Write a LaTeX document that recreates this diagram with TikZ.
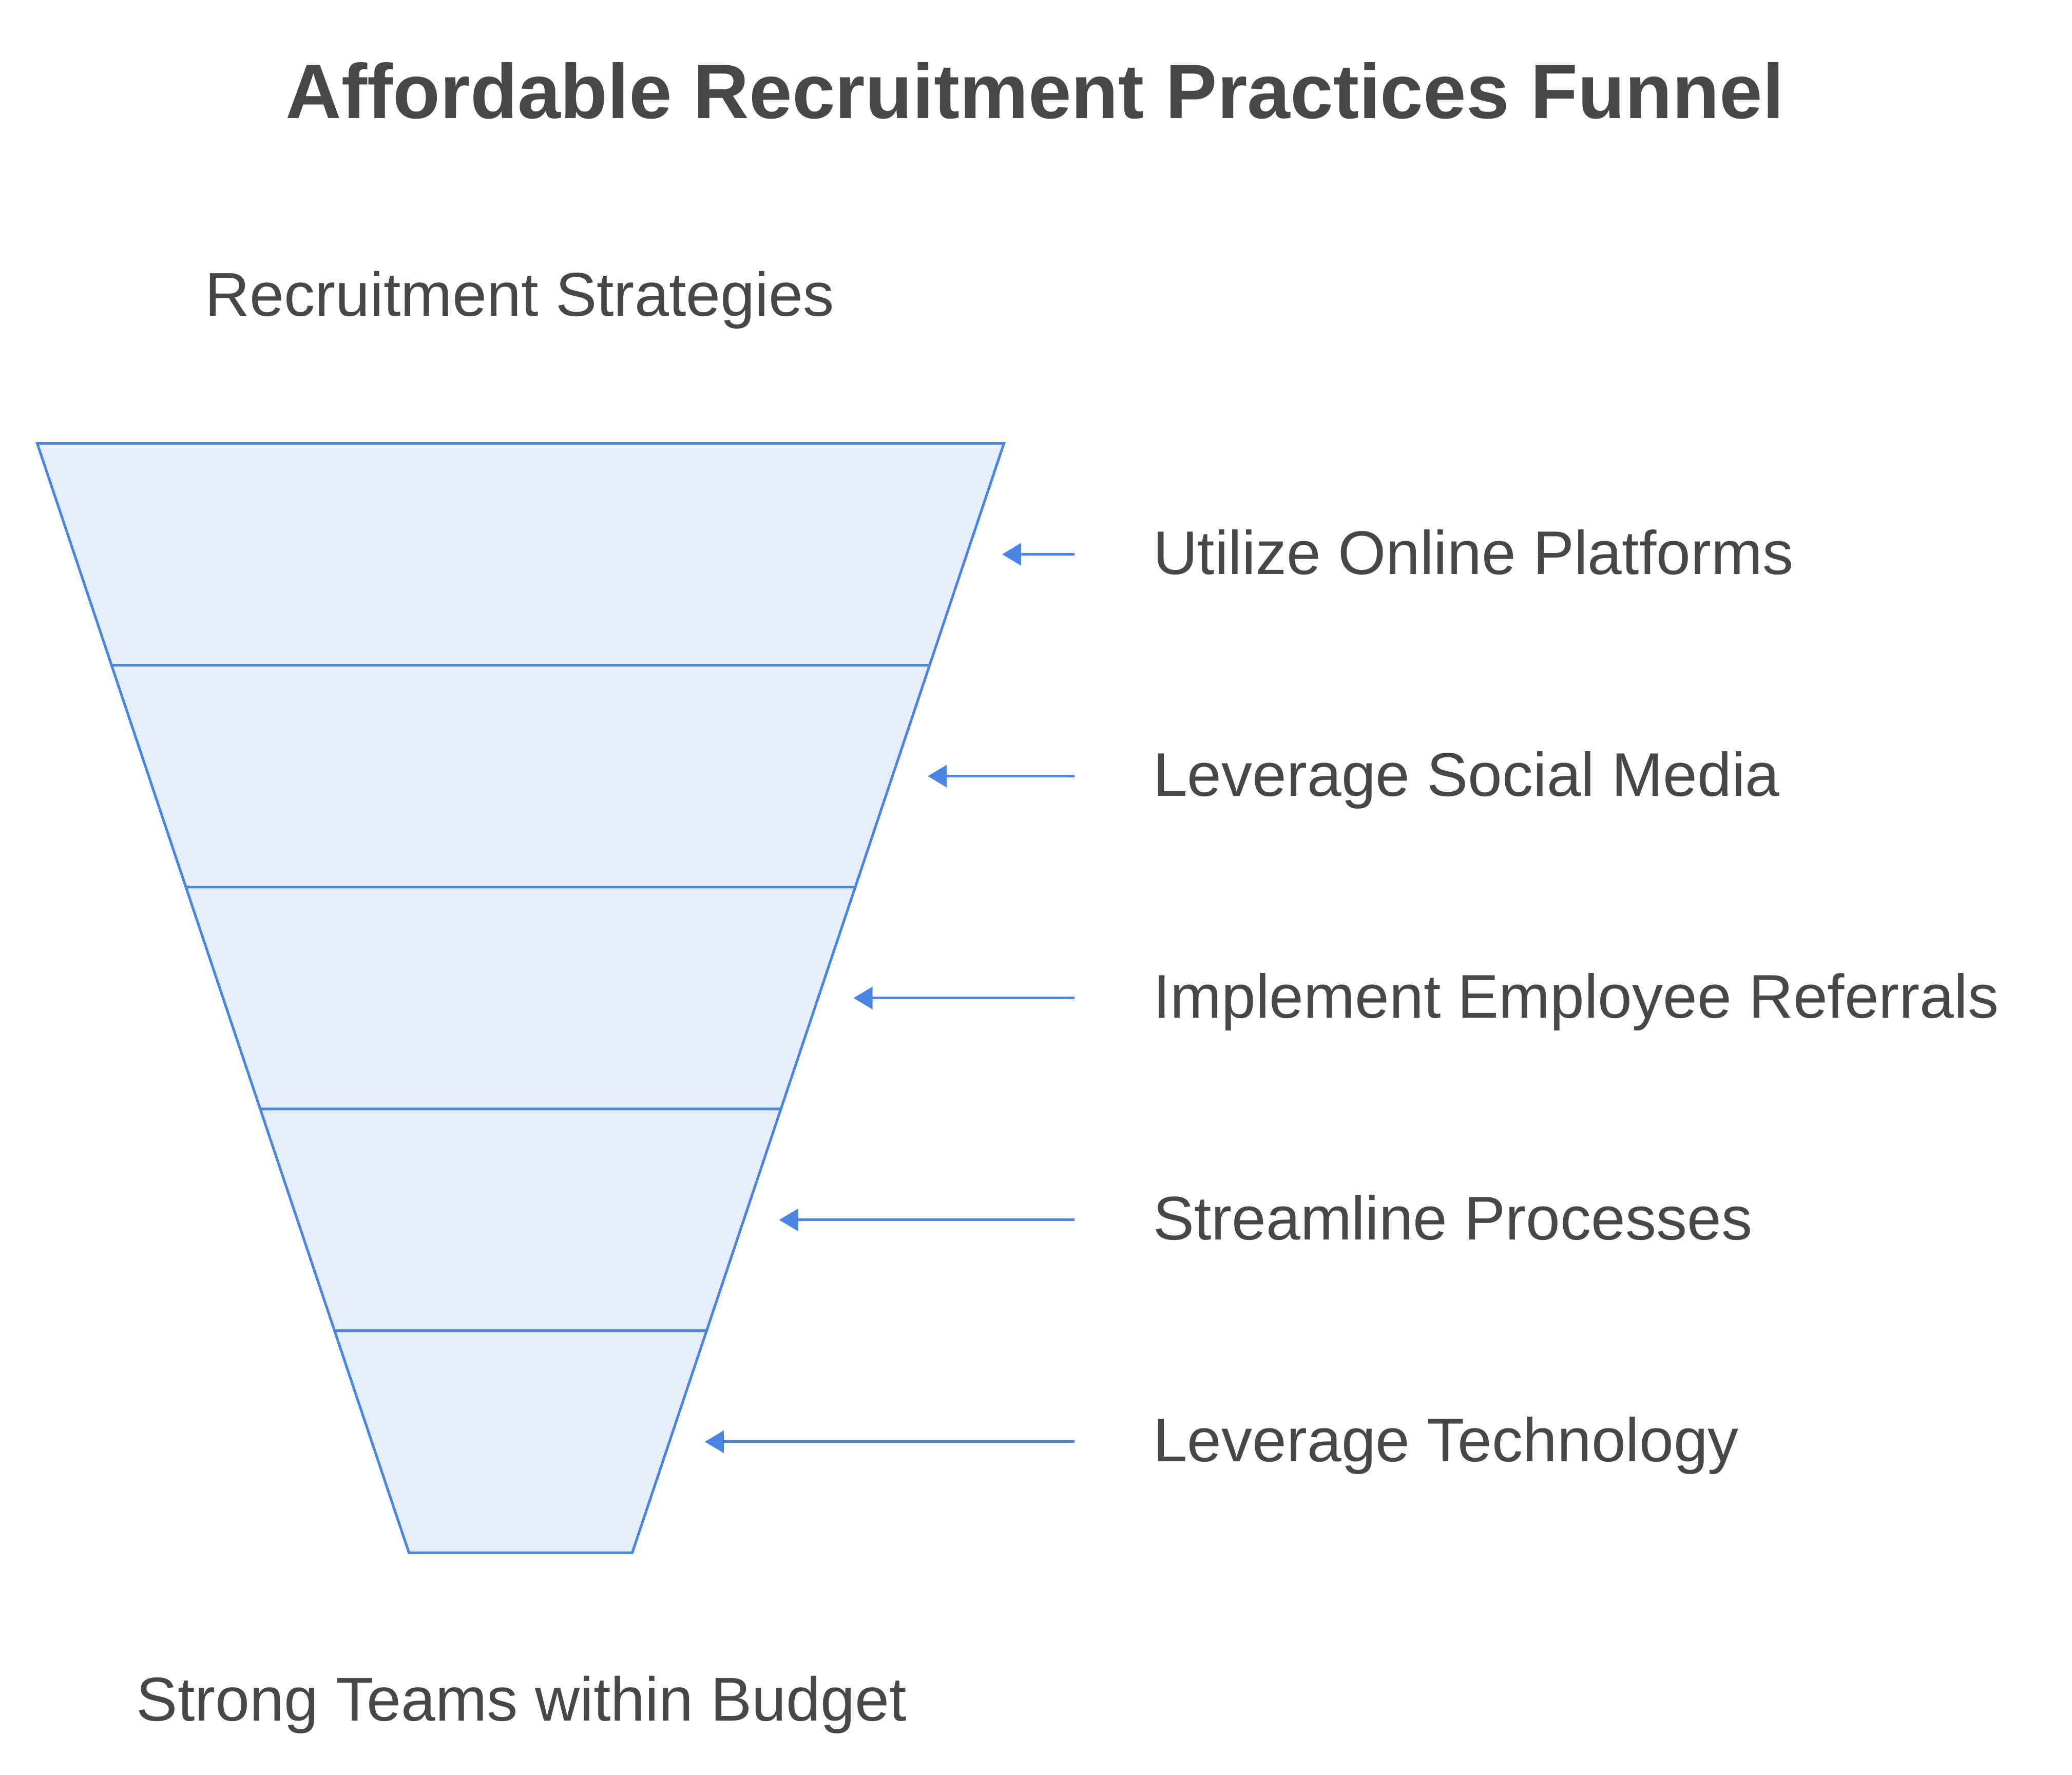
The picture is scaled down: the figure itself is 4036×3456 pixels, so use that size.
\documentclass[tikz,border=0pt]{standalone}
\usepackage{fontspec}
\setmainfont{Liberation Sans}
\usetikzlibrary{arrows.meta}
\definecolor{txtgray}{HTML}{474747}
\definecolor{funfill}{HTML}{E4EEFD}
\definecolor{edgeblue}{HTML}{4A84E4}
\tikzset{
  seg/.style={fill=funfill, draw=edgeblue, line width=5pt, line join=miter},
  lbl/.style={anchor=base west, inner sep=0pt, text=txtgray, font=\fontsize{120}{140}\selectfont},
  captext/.style={anchor=base, inner sep=0pt, text=txtgray, font=\fontsize{120.5}{140}\selectfont},
  ttl/.style={anchor=base, inner sep=0pt, text=txtgray, font=\bfseries\fontsize{150.5}{170}\selectfont},
  arr/.style={draw=edgeblue, line width=5pt, -{Triangle[length=37pt,width=43pt]}}
}
\begin{document}
\begin{tikzpicture}[x=1pt,y=-1pt]
\useasboundingbox (0,0) rectangle (4036,3456);
\def\cx{1014}
\def\ytop{863.5}
\def\st{432.1}
\def\hw{941.5}
\def\dh{144.8}
% funnel segments
\foreach \k in {0,...,4}{
  \pgfmathsetmacro{\ya}{\ytop+\k*\st}
  \pgfmathsetmacro{\yb}{\ytop+(\k+1)*\st}
  \pgfmathsetmacro{\wa}{\hw-\k*\dh}
  \pgfmathsetmacro{\wb}{\hw-(\k+1)*\dh}
  \draw[seg] (\cx-\wa,\ya) -- (\cx+\wa,\ya) -- (\cx+\wb,\yb) -- (\cx-\wb,\yb) -- cycle;
}
% titles
\node[ttl] (title) at (2016,230) {Affordable Recruitment Practices Funnel};
\node[captext] (top) at (1012,615) {Recruitment Strategies};
\node[captext] (bottom) at (1016,3351) {Strong Teams within Budget};
% labels and arrows
\foreach \k/\name/\t in {0/l1/Utilize Online Platforms,1/l2/Leverage Social Media,2/l3/Implement Employee Referrals,3/l4/Streamline Processes,4/l5/Leverage Technology}{
  \pgfmathsetmacro{\ym}{\ytop+(\k+0.5)*\st}
  \pgfmathsetmacro{\wm}{\hw-(\k+0.5)*\dh}
  \pgfmathsetmacro{\yt}{\ym+39}
  \node[lbl] (\name) at (2246,\yt) {\t};
  \coordinate (\name tail) at (2093,\ym);
  \coordinate (\name tip) at (\cx+\wm+69,\ym);
  \draw[arr] (\name tail) -- (\name tip);
}
\end{tikzpicture}
\end{document}
